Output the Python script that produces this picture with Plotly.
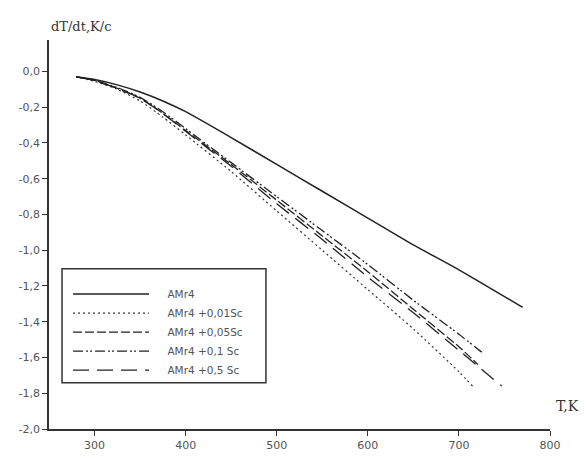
import plotly.graph_objects as go

# Data
T_amr4 = [280, 300, 325, 350, 375, 400, 450, 500, 550, 600, 650, 700, 770]
v_amr4 = [-0.03, -0.045, -0.075, -0.115, -0.165, -0.225, -0.37, -0.52, -0.67, -0.82, -0.97, -1.11, -1.32]

T_001 = [280, 300, 325, 350, 375, 400, 450, 500, 550, 600, 650, 700, 715]
v_001 = [-0.03, -0.055, -0.10, -0.165, -0.255, -0.355, -0.56, -0.78, -1.00, -1.22, -1.44, -1.68, -1.76]

T_005 = [280, 300, 325, 350, 375, 400, 450, 500, 550, 600, 650, 700, 721]
v_005 = [-0.03, -0.05, -0.095, -0.15, -0.235, -0.33, -0.52, -0.72, -0.92, -1.12, -1.33, -1.54, -1.64]

T_01 = [280, 300, 325, 350, 375, 400, 450, 500, 550, 600, 650, 700, 725]
v_01 = [-0.03, -0.05, -0.09, -0.145, -0.225, -0.32, -0.51, -0.70, -0.89, -1.08, -1.28, -1.47, -1.57]

T_05 = [280, 300, 325, 350, 375, 400, 450, 500, 550, 600, 650, 700, 747]
v_05 = [-0.03, -0.05, -0.095, -0.15, -0.235, -0.335, -0.53, -0.74, -0.94, -1.15, -1.35, -1.56, -1.76]

names = ["AMr4", "AMr4 +0,01Sc", "AMr4 +0,05Sc", "AMr4 +0,1 Sc", "AMr4 +0,5 Sc"]

x_ticks = [300, 400, 500, 600, 700, 800]
y_ticks = [0.0, -0.2, -0.4, -0.6, -0.8, -1.0, -1.2, -1.4, -1.6, -1.8, -2.0]
y_labels = ["0,0", "-0,2", "-0,4", "-0,6", "-0,8", "-1,0", "-1,2", "-1,4", "-1,6", "-1,8", "-2,0"]

series = [
    (T_amr4, v_amr4, names[0], dict(color="#222", width=1.5, dash="solid")),
    (T_001, v_001, names[1], dict(color="#333", width=1.2, dash="2px,3px")),
    (T_005, v_005, names[2], dict(color="#222", width=1.3, dash="9px,3px")),
    (T_01, v_01, names[3], dict(color="#222", width=1.3, dash="10px,3px,2px,2px,2px,3px")),
    (T_05, v_05, names[4], dict(color="#222", width=1.3, dash="16px,8px")),
]

PAD = "\u00a0" * 4

fig = go.Figure()
for xs, ys, nm, ln in series:
    fig.add_trace(go.Scatter(x=xs, y=ys, name=PAD + nm, mode="lines",
                             line=dict(shape="spline", smoothing=0.6, **ln)))

axis_font = dict(family="DejaVu Sans, sans-serif", size=11, color="#555")

# legend frame (plot-area fractions)
fig.add_shape(type="rect", xref="paper", yref="paper",
              x0=0.026, x1=0.433, y0=0.119, y1=0.412,
              line=dict(color="#333", width=1.5), fillcolor="white", layer="below")

fig.update_layout(
    width=584, height=464,
    margin=dict(l=49, r=34, t=40, b=28),
    paper_bgcolor="white", plot_bgcolor="white",
    showlegend=True,
    legend=dict(
        x=0.038, y=0.384, xanchor="left", yanchor="top",
        bgcolor="rgba(0,0,0,0)", borderwidth=0,
        font=dict(family="DejaVu Sans, sans-serif", size=10.5, color="#555"),
        itemwidth=76, tracegroupgap=0,
    ),
    xaxis=dict(
        range=[250, 800], tickvals=x_ticks, ticktext=[str(v) for v in x_ticks],
        showgrid=False, zeroline=False, showline=True, linecolor="#333", linewidth=1.5,
        ticks="outside", ticklen=5, tickcolor="#333", tickfont=axis_font,
    ),
    yaxis=dict(
        range=[-2.0, 0.176], tickvals=y_ticks, ticktext=y_labels,
        showgrid=False, zeroline=False, showline=True, linecolor="#333", linewidth=1.5,
        ticks="outside", ticklen=5, tickcolor="#333", tickfont=axis_font,
    ),
    annotations=[
        dict(text="dT/dt,K/c", xref="paper", yref="paper", x=0.0, y=1.035,
             xanchor="left", yanchor="middle", showarrow=False,
             font=dict(family="DejaVu Serif, serif", size=13, color="#333")),
        dict(text="T,K", xref="paper", yref="paper", x=1.062, y=0.06,
             xanchor="right", yanchor="middle", showarrow=False,
             font=dict(family="DejaVu Serif, serif", size=14, color="#333")),
    ],
)

fig.write_html("out.html", config={"displayModeBar": False},
               post_script="document.body.style.margin='0';document.body.style.overflow='hidden';")
